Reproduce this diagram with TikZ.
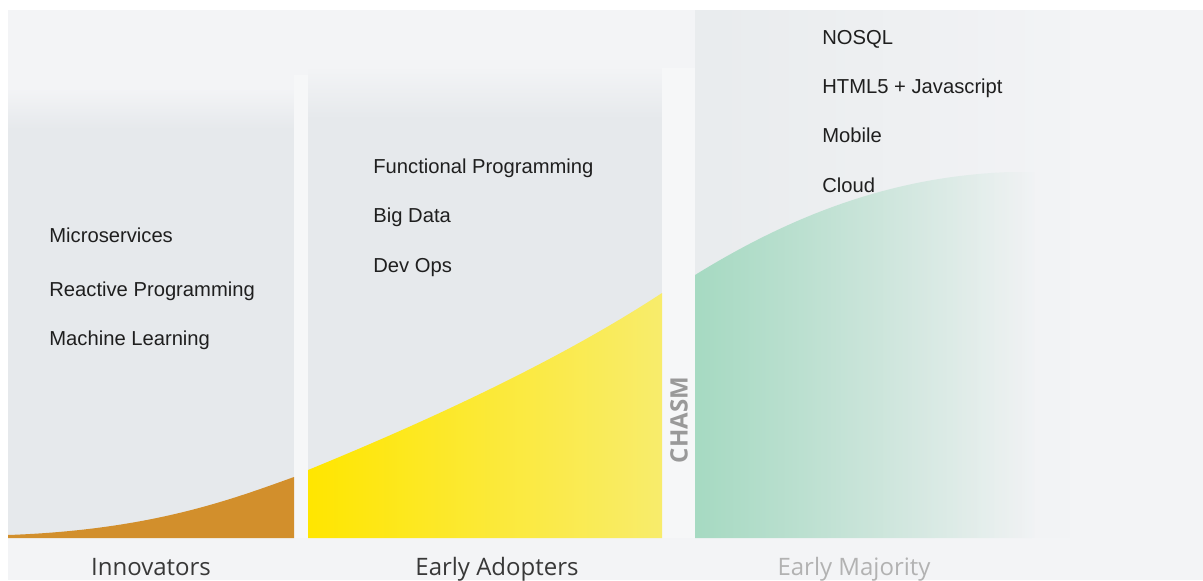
\documentclass[tikz,border=0pt]{standalone}
\usepackage{fontspec}
\setmainfont{Liberation Sans}
\newfontfamily\labelfont{Open Sans}
\usepackage{xcolor}
\usepackage{tikz}
\usetikzlibrary{positioning, calc, fadings}

\definecolor{bggrey}{HTML}{F3F4F6}
\definecolor{colgrey}{HTML}{E6E9EC}
\definecolor{gapwhite}{HTML}{F6F7F8}
\definecolor{emgrey}{HTML}{E9ECEE}
\definecolor{innoorange}{HTML}{D28F2C}
\definecolor{adoptyellow}{HTML}{FFE600}
\definecolor{adoptyellowlight}{HTML}{F8EC6C}
\definecolor{majgreen}{HTML}{A6DAC2}

\tikzfading[name=majfade, left color=transparent!0, middle color=transparent!45, right color=transparent!100]

\begin{document}
\begin{tikzpicture}[
    x=0.5pt, y=0.5pt,
    item/.style={anchor=base west, inner sep=0pt, font=\fontsize{10.1}{12}\selectfont, text=black!88},
    phase/.style={anchor=base, inner sep=0pt, font=\labelfont\fontsize{12}{14}\selectfont, text=black!78},
    chasmlabel/.style={rotate=90, inner sep=0pt, font=\labelfont\bfseries\fontsize{12}{14}\selectfont, text=black!40}
]
    \useasboundingbox (0,0) rectangle (1203,580);
    \fill[white] (0,0) rectangle (1203,580);
    \fill[bggrey] (8,0) rectangle (1203,570);

    % columns
    \fill[colgrey] (8,42) rectangle (294,452);
    \shade[top color=bggrey, bottom color=colgrey] (8,451) rectangle (294,492);
    \fill[colgrey] (308,42) rectangle (662,462);
    \shade[top color=bggrey, bottom color=colgrey] (308,461) rectangle (662,514);
    \fill[emgrey, path fading=majfade] (695,42) rectangle (1070,570);
    \fill[gapwhite] (294,42) rectangle (308,505);
    \fill[gapwhite] (662,42) rectangle (695,512);

    % adoption curve
    \fill[innoorange] (8,42) -- (8,45) .. controls (150,50) and (230,80) .. (294,103) -- (294,42) -- cycle;
    \shade[left color=adoptyellow, right color=adoptyellowlight]
        (308,42) -- (308,110) .. controls (430,160) and (560,220) .. (662,287) -- (662,42) -- cycle;
    \fill[majgreen, path fading=majfade]
        (695,42) -- (695,305) .. controls (800,370) and (900,404) .. (1010,408) -- (1035,408) -- (1035,42) -- cycle;

    % innovators
    \node[item] (micro) at (49,338) {Microservices};
    \node[item] (reactive) at (49,284) {Reactive Programming};
    \node[item] (ml) at (49,235) {Machine Learning};

    % early adopters
    \node[item] (functional) at (373,407) {Functional Programming};
    \node[item] (bigdata) at (373,358) {Big Data};
    \node[item] (devops) at (373,308) {Dev Ops};

    % early majority
    \node[item] (nosql) at (822,536) {NOSQL};
    \node[item] (html) at (822,487) {HTML5 + Javascript};
    \node[item] (mobile) at (822,438) {Mobile};
    \node[item] (cloud) at (822,388) {Cloud};

    % phases
    \node[phase] (innovators) at (151,5) {Innovators};
    \node[phase] (adopters) at (497,5) {Early Adopters};
    \node[phase, text=black!30] (majority) at (854,5) {Early Majority};
    \node[chasmlabel] (chasm) at (679,160) {CHASM};
\end{tikzpicture}
\end{document}
